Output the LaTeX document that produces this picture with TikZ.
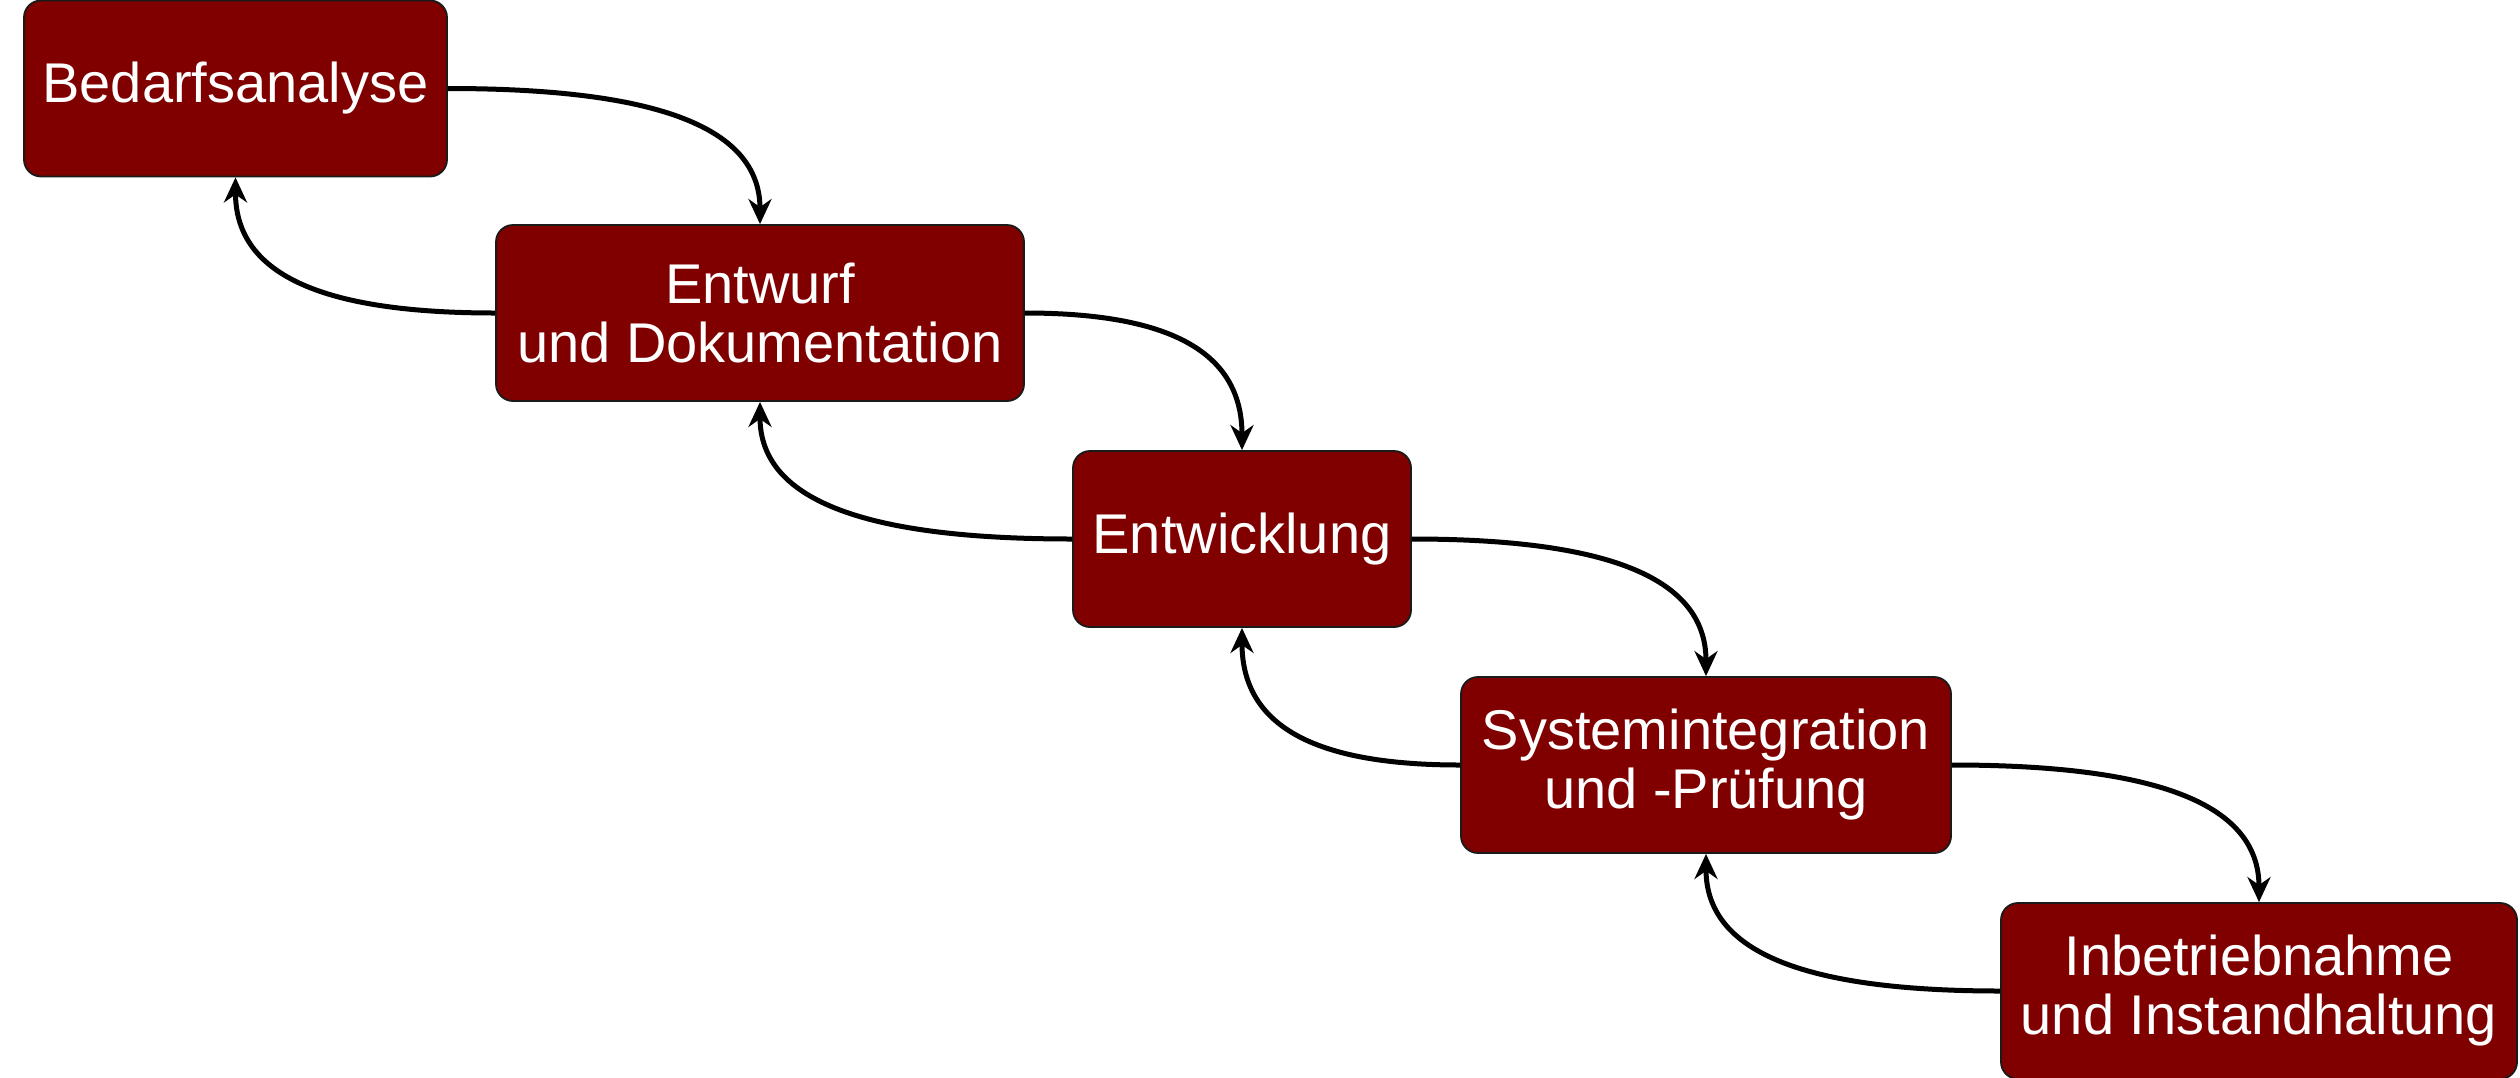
\documentclass[tikz,border=0pt]{standalone}
\usepackage{fontspec}
\setmainfont{Liberation Sans}
\usetikzlibrary{arrows.meta,calc}
\definecolor{boxred}{HTML}{800000}
\definecolor{boxline}{HTML}{1A1A1A}
\tikzset{
  phase/.style={draw=boxline, line width=1.8pt, fill=boxred, rounded corners=17pt,
    text=white, align=center, inner sep=0pt,
    font=\fontsize{56}{59}\selectfont, minimum height=176pt},
  conn/.style={line width=5pt, -{Stealth[length=25pt,width=23pt,inset=8pt]}}
}
\begin{document}
\begin{tikzpicture}[x=1pt,y=-1pt]
\useasboundingbox (0,0) rectangle (2520,1077);
\node[phase, minimum width=423pt] (b1) at (235.5,88.5) {Bedarfsanalyse};
\node[phase, minimum width=528pt] (b2) at (760,313) {Entwurf\\und Dokumentation};
\node[phase, minimum width=338pt] (b3) at (1242,539) {Entwicklung};
\node[phase, minimum width=490pt] (b4) at (1706,765) {Systemintegration\\und -Prüfung};
\node[phase, minimum width=516pt] (b5) at (2259,991) {Inbetriebnahme\\und Instandhaltung};
% forward links: east -> next north
\foreach \a/\b in {b1/b2,b2/b3,b3/b4,b4/b5}{
  \coordinate (f-\a) at (\a.east -| \b.north);
  \draw[conn] (\a.east) .. controls ($(\a.east)!0.64!(f-\a)$) and ($(\b.north)!0.74!(f-\a)$) .. (\b.north);
  \coordinate (r-\a) at (\a.south |- \b.west);
  \draw[conn] (\b.west) .. controls ($(\b.west)!0.64!(r-\a)$) and ($(\a.south)!0.74!(r-\a)$) .. (\a.south);
}
\end{tikzpicture}
\end{document}
